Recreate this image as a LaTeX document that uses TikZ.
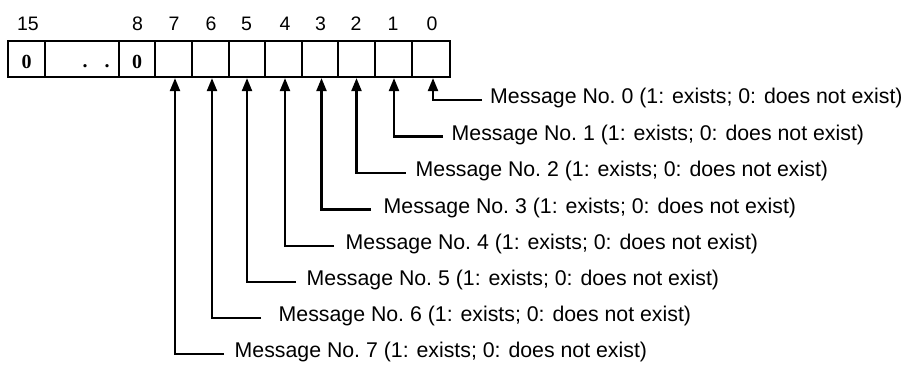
\documentclass[tikz,border=0pt]{standalone}
\usepackage{fontspec}
\setmainfont{Liberation Sans}
\newfontfamily\cellserif{Liberation Serif}
\usetikzlibrary{arrows.meta,calc}
\begin{document}
\begin{tikzpicture}[x=1pt,y=-1pt,
  cellbox/.style={draw, line width=2.2pt, minimum height=36pt, inner sep=0pt, outer sep=1.1pt},
  cellnum/.style={font=\cellserif\bfseries\fontsize{20}{22}\selectfont, inner sep=0pt, anchor=base},
  bitnum/.style={font=\fontsize{19.5}{22}\selectfont, inner sep=0pt, anchor=base},
  msg/.style={font=\fontsize{21.3}{24}\selectfont, inner sep=0pt, anchor=base west},
  arr/.style={line width=2.2pt, -{Triangle[width=10pt,length=13pt]}}]
\useasboundingbox (0,0) rectangle (909,365);
% register cells
\foreach \nm/\l/\r in {c15/8/45, cd/45/119, c8/119/155, c7/155/192, c6/192/229, c5/229/265, c4/265/302, c3/302/338, c2/338/375, c1/375/412, c0/412/450}
  \node[cellbox, minimum width={\r-\l}] (\nm) at ({(\l+\r)/2},59) {};
% cell contents
\node[cellnum] (z15) at (26.5,68) {0};
\node[cellnum] (zd) at (96,67) {.\hspace{17pt}.};
\node[cellnum] (z8) at (137,68) {0};
% bit numbers
\foreach \nm/\x/\t in {n15/28/15, n8/137.5/8, n7/174/7, n6/211/6, n5/246.5/5, n4/285/4, n3/320.5/3, n2/356/2, n1/393/1, n0/432/0}
  \node[bitnum] (\nm) at (\x,30) {\t};
% messages
\foreach \k/\tx/\ly/\ax in {0/490/100/433, 1/451.5/136.5/394, 2/415.5/173/356.5, 3/383.5/209.5/322, 4/345.5/246/285, 5/306.5/282/247, 6/278.5/318/212, 7/234.5/354/175}{
  \node[msg] (m\k) at (\tx,\ly+3.5) {Message No.\ \k\ (1: exists; 0: does not exist)};
  \coordinate (e\k) at (\ax+49,\ly);
}
\draw[arr] (e0) -| ([xshift=2pt]c0.south);
\draw[arr] (e1) -| ([xshift=0.5pt]c1.south);
\draw[arr] (e2) -| ([xshift=0pt]c2.south);
\draw[arr] (e3) -| ([xshift=1.5pt]c3.south);
\draw[arr] (e4) -| ([xshift=1.5pt]c4.south);
\draw[arr] (e5) -| ([xshift=0pt]c5.south);
\draw[arr] (e6) -| ([xshift=1.5pt]c6.south);
\draw[arr] (e7) -| ([xshift=1.5pt]c7.south);
\end{tikzpicture}
\end{document}
